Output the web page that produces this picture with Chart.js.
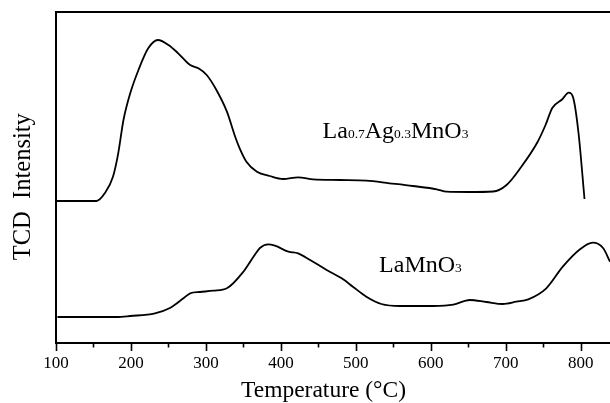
<!DOCTYPE html>
<html><head><meta charset="utf-8">
<script src="https://cdn.jsdelivr.net/npm/chart.js@4"></script>
<style>html,body{margin:0;padding:0;background:#fff;overflow:hidden}</style>
</head><body>
<canvas id="c" width="610" height="403"></canvas>
<script>
// La0.7Ag0.3MnO3 curve (temperature °C, TCD signal a.u.)
const tempAg = [100,154,165,176,183,190,199,210,223,236,250,263,279,290,301,314,328,339,345,354,368,385,403,423,443,479,514,545,576,608,621,650,683,701,720,742,753,762,775,784,790,797,805];
const tcdAg  = [142,142,149.7,166.3,189.7,223,249.7,273,294.7,303,298,289.7,278,274.7,268,253,231.3,206.3,194.7,181.3,171.3,167,164,165.7,163.7,163,162.3,159.7,157,153.7,151.3,151,151.5,158,175.5,200.5,218,235,243.5,250.3,245,210,144];
// LaMnO3 curve
const tempLa = [102,181,199,232,252,270,279,292,310,328,350,365,372,383,392,410,423,439,461,483,496,514,534,559,603,630,652,674,696,714,730,754,776,799,816,830,839,848];
const tcdLa  = [26,26,27,29.7,35,44.7,49.7,51,52.3,54.7,71.3,88,95,98.7,97.3,91.3,89.7,83,73,63.7,56.3,46.3,39,37,37,38.3,43,41,39,41.3,43.7,54.7,76.3,93.7,100.3,94.7,81.3,68];
// axis ticks
const tickValues = [100,200,300,400,500,600,700,800];
const minorTickValues = [150,250,350,450,550,650,750,850];

const FAM = '"Liberation Serif","Times New Roman",serif';
const toPts = (xs, ys) => xs.map((x, i) => ({x, y: ys[i]}));

const decor = {
  id: 'decor',
  afterDraw(chart) {
    const {ctx, chartArea: a, scales: {x, y}} = chart;
    ctx.save();
    ctx.strokeStyle = '#000';
    // top frame line
    ctx.lineWidth = 2;
    ctx.beginPath(); ctx.moveTo(a.left - 1, a.top); ctx.lineTo(a.right + 2, a.top); ctx.stroke();
    // tick marks (outward)
    ctx.lineWidth = 1.6;
    ctx.beginPath();
    tickValues.forEach(v => { const px = Math.round(x.getPixelForValue(v)) + 0.5; ctx.moveTo(px, a.bottom); ctx.lineTo(px, a.bottom + 8); });
    minorTickValues.forEach(v => { const px = Math.round(x.getPixelForValue(v)) + 0.5; ctx.moveTo(px, a.bottom); ctx.lineTo(px, a.bottom + 4.5); });
    ctx.stroke();
    // axis titles
    ctx.fillStyle = '#000';
    ctx.font = '23.5px ' + FAM;
    ctx.textAlign = 'center'; ctx.textBaseline = 'alphabetic';
    ctx.fillText('Temperature (°C)', 323.5, 397);
    ctx.save();
    ctx.translate(29.5, 186.7); ctx.rotate(-Math.PI / 2);
    ctx.font = '24.5px ' + FAM;
    ctx.fillText('TCD  Intensity', 0, 0);
    ctx.restore();
    // curve labels
    ctx.textAlign = 'left';
    const formula = (parts, tx, ty) => {
      let px = x.getPixelForValue(tx); const py = y.getPixelForValue(ty);
      parts.forEach(([t, sub]) => {
        ctx.font = (sub ? '13.5px ' : '24px ') + FAM;
        ctx.fillText(t, px, py);
        px += ctx.measureText(t).width;
      });
    };
    formula([['La',0],['0.7',1],['Ag',0],['0.3',1],['MnO',0],['3',1]], 455.6, 204.7);
    formula([['LaMnO',0],['3',1]], 531, 70.7);
    ctx.restore();
  }
};

new Chart(document.getElementById('c'), {
  type: 'line',
  data: {
    datasets: [
      {data: toPts(tempAg, tcdAg), borderColor: '#000', borderWidth: 1.8, pointRadius: 0, fill: false, cubicInterpolationMode: 'monotone'},
      {data: toPts(tempLa, tcdLa), borderColor: '#000', borderWidth: 1.8, pointRadius: 0, fill: false, cubicInterpolationMode: 'monotone'}
    ]
  },
  options: {
    responsive: false, animation: false, devicePixelRatio: 1,
    layout: {padding: {top: 12, right: 0, left: 0, bottom: 0}},
    plugins: {legend: {display: false}, tooltip: {enabled: false}},
    scales: {
      x: {
        type: 'linear', min: 100, max: 839,
        afterBuildTicks: s => { s.ticks = tickValues.map(v => ({value: v})); },
        afterFit: s => { s.height = 60; s.paddingLeft = 0; s.paddingRight = 0; },
        grid: {display: false},
        border: {display: true, color: '#000', width: 2},
        ticks: {color: '#000', font: {family: FAM, size: 17}, padding: 2, maxRotation: 0, autoSkip: false}
      },
      y: {
        min: 0, max: 331,
        afterFit: s => { s.width = 56; },
        grid: {display: false},
        border: {display: true, color: '#000', width: 2},
        ticks: {display: false}
      }
    }
  },
  plugins: [decor]
});
</script>
</body></html>
